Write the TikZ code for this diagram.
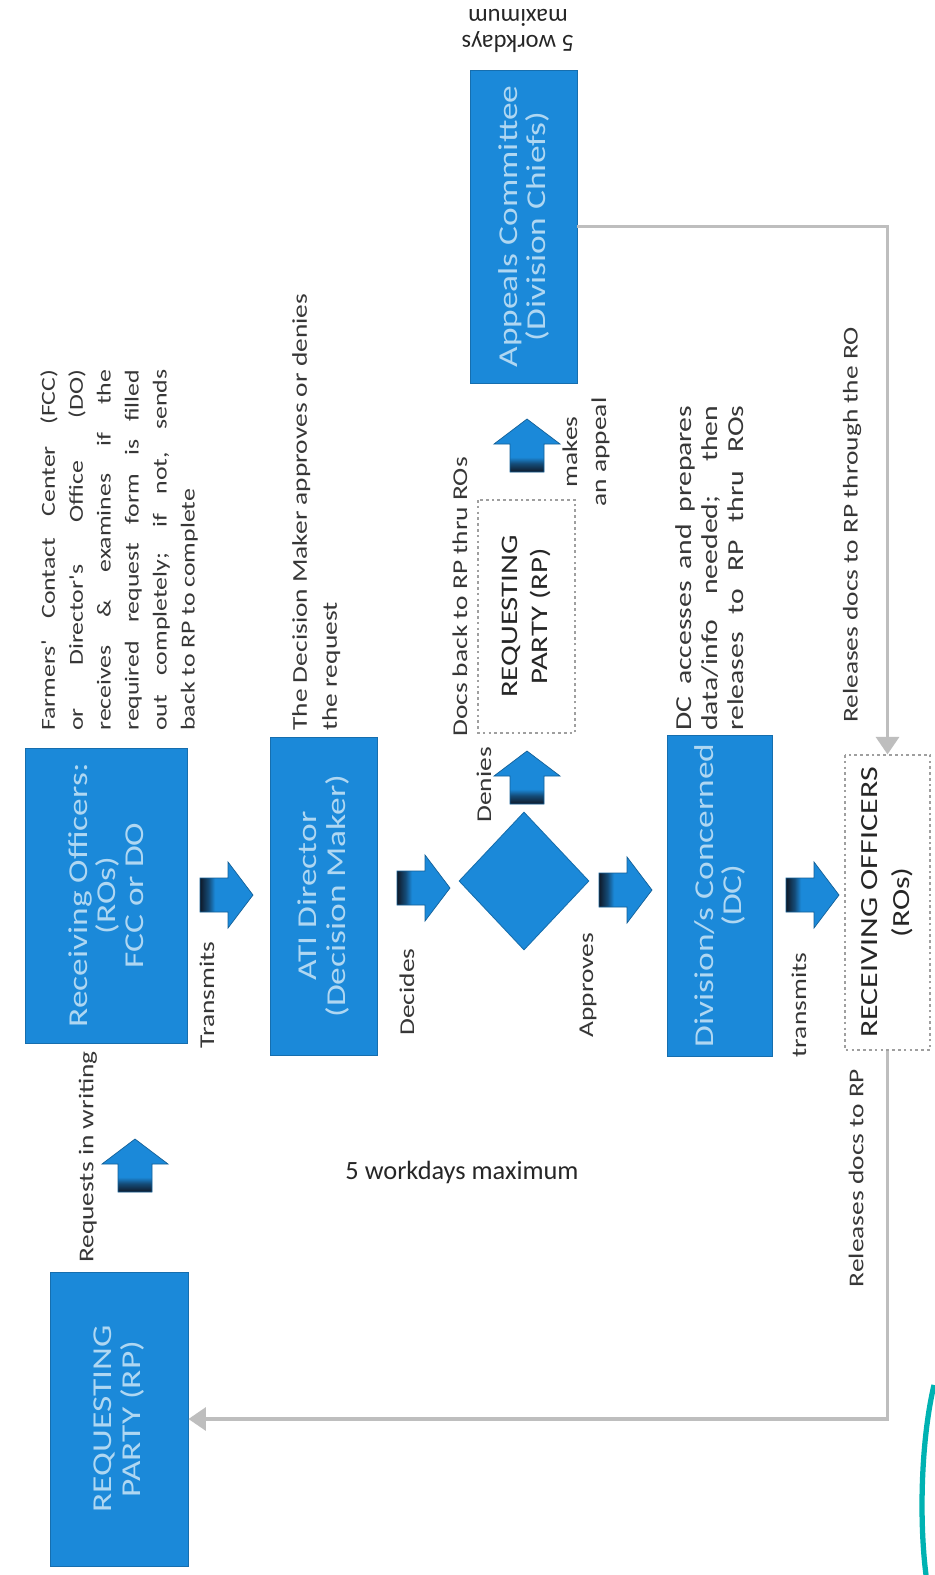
\documentclass[tikz,border=0pt]{standalone}
\usepackage{fontspec}
\setmainfont{Carlito}
\newfontfamily\sfam[FakeStretch=1.3]{Carlito}
\newfontfamily\cfam{Carlito}
\usetikzlibrary{shapes.geometric,arrows.meta}
\definecolor{boxblue}{RGB}{27,137,217}
\definecolor{boxtext}{RGB}{175,215,242}
\definecolor{arrdark}{RGB}{15,25,40}
\definecolor{conngray}{RGB}{190,190,190}
\definecolor{lblcol}{RGB}{55,55,55}
\pgfdeclarehorizontalshading{arrowshade}{100bp}{color(0bp)=(arrdark); color(25bp)=(arrdark); color(33bp)=(arrdark!55!boxblue); color(39bp)=(boxblue); color(100bp)=(boxblue)}
\newcommand{\rarr}[2]{\shadedraw[blockarr] ({#1-26},{#2-17}) -- ({#1+2},{#2-17}) -- ({#1+2},{#2-33}) -- ({#1+27},{#2}) -- ({#1+2},{#2+33}) -- ({#1+2},{#2+17}) -- ({#1-26},{#2+17}) -- cycle;}
\newcommand{\uarr}[2]{\shadedraw[blockarr, shading angle=90] ({#1-17},{#2+26}) -- ({#1-17},{#2-2}) -- ({#1-33},{#2-2}) -- ({#1},{#2-27}) -- ({#1+33},{#2-2}) -- ({#1+17},{#2-2}) -- ({#1+17},{#2+26}) -- cycle;}
\newcommand{\jl}[2]{\makebox[#1][s]{#2}}
\tikzset{
  bluebox/.style={rectangle, fill=boxblue, draw=boxblue!80!black, line width=0.5pt, rotate=90, inner sep=0pt, align=center, text=boxtext, font=\sfam\fontsize{15.5}{16}\selectfont},
  dashbox/.style={rectangle, draw=gray!75, dash pattern=on 1.5pt off 1.8pt, line width=0.7pt, rotate=90, inner sep=0pt, align=center, text=black!85, font=\sfam\fontsize{13.5}{17}\selectfont},
  lbl/.style={rotate=90, inner sep=0pt, text=lblcol, font=\sfam\fontsize{12}{14}\selectfont},
  conn/.style={draw=conngray, line width=2.2pt, -{Triangle[length=10pt,width=13pt]}},
  blockarr/.style={shading=arrowshade, draw=boxblue!70!black, line width=0.4pt}
}
\begin{document}
\begin{tikzpicture}[x=0.02cm, y=-0.02cm]
\useasboundingbox (0,0) rectangle (934,1575);
\fill[white] (0,0) rectangle (934,1575);

% main boxes
\node[bluebox, minimum width=5.88cm, minimum height=2.76cm] (rp) at (119,1419) {REQUESTING\\PARTY (RP)};
\node[bluebox, minimum width=5.9cm, minimum height=3.24cm] (rec) at (106,895.5) {Receiving Officers:\\(ROs)\\FCC or DO};
\node[bluebox, minimum width=6.36cm, minimum height=2.14cm] (ati) at (323.5,896) {ATI Director\\(Decision Maker)};
\node[diamond, fill=boxblue, draw=boxblue!80!black, line width=0.5pt, inner sep=0pt, minimum width=2.6cm, minimum height=2.76cm] (dec) at (524,881) {};
\node[dashbox, minimum width=4.66cm, minimum height=1.94cm] (rp2) at (526.5,616.5) {REQUESTING\\PARTY (RP)};
\node[bluebox, minimum width=6.26cm, minimum height=2.14cm] (ac) at (523.5,226.5) {Appeals Committee\\(Division Chiefs)};
\node[bluebox, minimum width=6.42cm, minimum height=2.1cm] (dc) at (719.5,895.5) {Division/s Concerned\\(DC)};
\node[dashbox, minimum width=5.9cm, minimum height=1.7cm, font=\sfam\fontsize{14}{18}\selectfont] (ro) at (887.5,902.5) {RECEIVING OFFICERS\\(ROs)};

% block arrows
\uarr{135}{1166}
\rarr{226}{895}
\rarr{423}{888}
\uarr{527}{778}
\uarr{527}{446}
\rarr{625}{890}
\rarr{812}{895}

% connectors
\draw[conn] (ac.south) -| (ro.east);
\draw[conn] (ro.west) |- (rp.south);

% labels
\node[lbl] (l1) at (88,1157) {Requests in writing};
\node[lbl] (l2) at (207,995) {Transmits};
\node[lbl] (l3) at (407,992) {Decides};
\node[lbl] (l4) at (484,785) {Denies};
\node[lbl] (l5) at (588,985) {Approves};
\node[lbl] (l6) at (799,1005) {transmits};
\node[lbl, align=center, font=\sfam\fontsize{12}{16.4}\selectfont] (l7) at (586,452) {makes\\an appeal};
\node[lbl] (l8) at (460,597) {Docs back to RP thru ROs};
\node[lbl] (l9) at (852,525) {Releases docs to RP through the RO};
\node[lbl] (l10) at (856,1178) {Releases docs to RP};

% text blocks
\node[lbl, anchor=north west, align=left, font=\sfam\fontsize{11.3}{15.9}\selectfont] (t1) at (40,731)
 {\jl{7.22cm}{Farmers' Contact Center (FCC)}\\
  \jl{7.22cm}{or Director's Office (DO)}\\
  \jl{7.22cm}{receives \& examines if the}\\
  \jl{7.22cm}{required request form is filled}\\
  \jl{7.22cm}{out completely; if not, sends}\\
  back to RP to complete};
\node[lbl, anchor=north west, align=left, font=\sfam\fontsize{12}{17}\selectfont] (t2) at (292,731)
 {The Decision Maker approves or denies\\the request};
\node[lbl, anchor=north west, align=left, font=\sfam\fontsize{13}{15}\selectfont] (t3) at (675,731)
 {\jl{6.5cm}{DC accesses and prepares}\\
  \jl{6.5cm}{data/info needed; then}\\
  \jl{6.5cm}{releases to RP thru ROs}};

% horizontal texts
\node[inner sep=0pt, font=\cfam\fontsize{15}{17}\selectfont, text=black!85] (w1) at (462,1172) {5 workdays maximum};
\node[inner sep=0pt, rotate=180, align=center, font=\cfam\fontsize{14}{15}\selectfont, text=black!85] (w2) at (518,31) {5 workdays\\maximum};

% edge artifact
\draw[line width=3pt, color=teal!60!cyan] (934,1385) .. controls (921,1440) and (919,1520) .. (926,1575);
\end{tikzpicture}
\end{document}
